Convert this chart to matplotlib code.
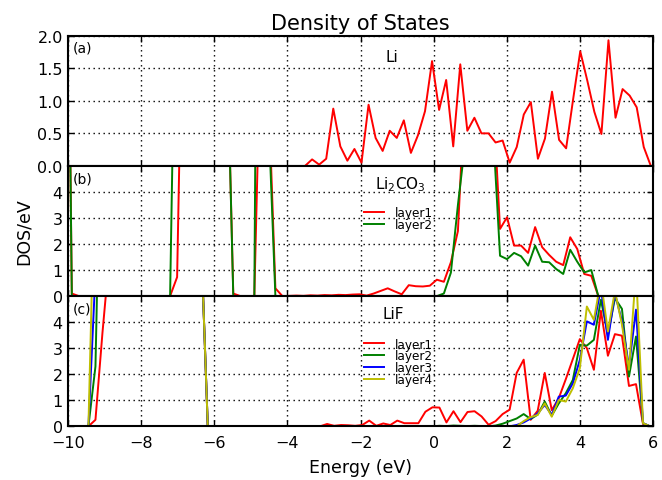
import numpy as np
import matplotlib
matplotlib.use("Agg")
import matplotlib.pyplot as plt

# ---------------- data ----------------
# (a) Li
li_e_start, li_e_step = -3.516, 0.1928
li_dos = [0, 0.10, 0.02, 0.11, 0.88, 0.30, 0.08, 0.26, 0.05, 0.94, 0.43, 0.23,
          0.54, 0.43, 0.70, 0.20, 0.47, 0.84, 1.61, 0.86, 1.32, 0.30, 1.56, 0.54,
          0.74, 0.50, 0.50, 0.36, 0.39, 0.05, 0.29, 0.79, 0.98, 0.11, 0.42, 1.14,
          0.40, 0.27, 1.03, 1.76, 1.31, 0.83, 0.49, 1.93, 0.74, 1.18, 1.08, 0.90,
          0.29, 0.0]

# (b) Li2CO3
b_e_start, b_e_step = -10.08, 0.1918
b_layer1 = ([25, 0.1] + [0] * 14 +
            [0.73, 15, 12, 10, 11, 9, 10, 11, 0.1, 0, 0, 0, 11, 8, 0.3] +
            [0, 0.01, 0.02, 0.01, 0.03, 0.02, 0.04, 0.03, 0.05, 0.04, 0.06] +
            [0.07, 0.02, 0.1, 0.2, 0.3, 0.18, 0.07, 0.42, 0.38, 0.37, 0.40, 0.63,
             0.55, 1.3, 2.5] +
            [8, 9, 10, 8.5, 7.7] +
            [2.58, 3.03, 1.94, 1.94, 1.66, 2.65, 1.88, 1.58, 1.32, 1.19, 2.26, 1.81,
             0.85, 0.78, 0] +
            [0] * 7)
b_layer2 = ([25, 0] + [0] * 14 +
            [16, 14, 13, 11, 12, 10, 11, 11, 0, 0, 0, 0, 40, 7, 0] +
            [0] * 11 +
            [0] * 12 + [0.1, 0.9, 3.5] +
            [5.8, 8, 9, 7.5, 6.4] +
            [1.55, 1.42, 1.66, 1.53, 1.17, 1.94, 1.32, 1.30, 1.04, 0.85, 1.78, 1.32,
             0.91, 1.0, 0] +
            [0] * 7)

# (c) LiF
c_e_start, c_e_step = -9.434, 0.1918
c_layer1 = ([0, 0.25, 3.6, 6.6] +
            [9, 11, 12, 10, 13, 11, 9, 10, 12, 11, 10, 9] + [7.5] + [0] * 16 +
            [0, 0.09, 0.02, 0.05, 0.04, 0.02, 0.05, 0.22, 0.02, 0.11, 0.05, 0.22,
             0.12, 0.12, 0.12, 0.56, 0.73, 0.72, 0.15, 0.58, 0.16, 0.55, 0.58, 0.38,
             0.06, 0.2, 0.47, 0.64, 2.05, 2.56, 0.25, 0.6, 2.05, 0.62, 1.08, 1.81,
             2.58, 3.35, 3.0, 2.17, 4.44, 2.71, 3.54, 3.48, 1.55, 1.62, 0.09, 0])
c_layer2 = ([0, 2.3] +
            [15, 12, 13, 11, 12, 14, 10, 11, 13, 12, 11, 10, 9, 10] + [7.5] +
            [0] * 33 +
            [0.02, 0.01, 0.03, 0.02, 0.01, 0.02, 0.01, 0.0] +
            [0.03, 0.1, 0.2, 0.3, 0.47, 0.28] + [0.45] +
            [0.95, 0.41, 0.88, 1.27, 1.78, 3.13, 3.1, 3.32, 4.86, 3.52, 4.92, 4.51,
             1.91, 3.45, 0.12, 0])
c_layer3 = ([0, 5.9] +
            [20, 14, 12, 13, 11, 12, 13, 11, 12, 14, 12, 10, 11, 10] + [7.5] +
            [0] * 44 +
            [0.05, 0.15, 0.3, 0.5] +
            [0.82, 0.44, 1.14, 1.18, 1.65, 2.55, 4.03, 3.9, 5.3, 3.32, 5.1, 4.03,
             2.3, 4.48, 0.12, 0])
c_layer4 = ([0, 10.9] +
            [25, 15, 13, 12, 14, 11, 13, 12, 11, 13, 12, 11, 10, 11] + [7.5] +
            [0] * 45 +
            [0.2, 0.35, 0.44] +
            [0.88, 0.37, 1.01, 0.95, 1.46, 2.23, 4.6, 4.09, 5.6, 3.64, 5.2, 3.9,
             2.17, 6.0, 0.12, 0])

x_ticks = [-10, -8, -6, -4, -2, 0, 2, 4, 6]
a_yticks = [0.0, 0.5, 1.0, 1.5, 2.0]
bc_yticks = [0, 1, 2, 3, 4]


def grid_of(start, step, values):
    return start + step * np.arange(len(values))


li_e = grid_of(li_e_start, li_e_step, li_dos)
b_e = grid_of(b_e_start, b_e_step, b_layer1)
c_e = grid_of(c_e_start, c_e_step, c_layer1)

# ---------------- figure ----------------
plt.rcParams['font.family'] = ['DejaVu Sans']
fig = plt.figure(figsize=(6.62, 4.81), dpi=100)
axs = fig.subplots(3, 1, sharex=True)
fig.subplots_adjust(left=0.1023, right=0.9869, top=0.9237, bottom=0.1116,
                    hspace=0)
ax_a, ax_b, ax_c = axs

lw = 1.4
ax_a.plot(li_e, li_dos, color='r', lw=lw)

ax_b.plot(b_e, b_layer1, color='r', lw=lw, label='layer1')
ax_b.plot(b_e, b_layer2, color='g', lw=lw, label='layer2')

ax_c.plot(c_e, c_layer1, color='r', lw=lw, label='layer1')
ax_c.plot(c_e, c_layer2, color='g', lw=lw, label='layer2')
ax_c.plot(c_e, c_layer3, color='b', lw=lw, label='layer3')
ax_c.plot(c_e, c_layer4, color='y', lw=lw, label='layer4')

ax_a.set_ylim(0, 2.0)
ax_a.set_yticks(a_yticks)
ax_a.set_yticklabels([f"{v:.1f}" for v in a_yticks])
for ax in (ax_b, ax_c):
    ax.set_ylim(0, 5)
    ax.set_yticks(bc_yticks)

for ax in axs:
    ax.set_xlim(-10, 6)
    ax.set_xticks(x_ticks)
    ax.grid(True, color='black', linestyle=(0, (1, 2.6)), linewidth=1.0)
    ax.tick_params(direction='in', top=True, right=True, length=4, width=1,
                   labelsize=11.5)
    ax.tick_params(axis='x', pad=6)
    for s in ax.spines.values():
        s.set_linewidth(1.5)

for ax, lab in zip(axs, ['(a)', '(b)', '(c)']):
    ax.text(0.008, 0.96, lab, transform=ax.transAxes, ha='left', va='top',
            fontsize=10)

ax_a.text(-1.14, 1.68, 'Li', ha='center', va='center', fontsize=11)
ax_b.text(-0.92, 4.3, 'Li$_2$CO$_3$', ha='center', va='center', fontsize=11)
ax_c.text(-1.1, 4.35, 'LiF', ha='center', va='center', fontsize=11)

leg_kw = dict(frameon=False, fontsize=8.7, handlelength=1.6, handletextpad=0.9,
              labelspacing=-0.1, borderpad=0.3, loc='upper center')
ax_b.legend(bbox_to_anchor=(0.565, 0.765), **leg_kw)
ax_c.legend(bbox_to_anchor=(0.565, 0.755), **leg_kw)

ax_a.set_title('Density of States', fontsize=15, pad=5)
ax_b.set_ylabel('DOS/eV', fontsize=12.5, labelpad=14)
ax_c.set_xlabel('Energy (eV)', fontsize=12.5, labelpad=6)

fig.savefig('out.png', dpi=100)
